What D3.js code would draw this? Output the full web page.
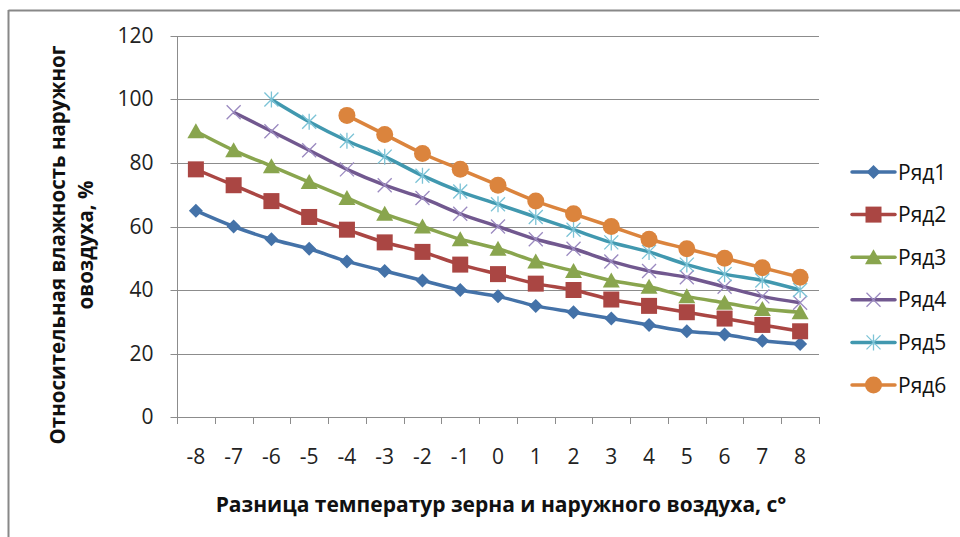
<!DOCTYPE html>
<html><head><meta charset="utf-8">
<script src="https://cdn.jsdelivr.net/npm/d3@7"></script>
<style>body{margin:0;background:#fff}svg{display:block}text{font-family:"Open Sans",sans-serif}</style>
</head><body><svg width="960" height="537"></svg>
<script>
const categories = [-8,-7,-6,-5,-4,-3,-2,-1,0,1,2,3,4,5,6,7,8];
const seriesNames = ["Ряд1","Ряд2","Ряд3","Ряд4","Ряд5","Ряд6"];
const s1 = [65,60,56,53,49,46,43,40,38,35,33,31,29,27,26,24,23];
const s2 = [78,73,68,63,59,55,52,48,45,42,40,37,35,33,31,29,27];
const s3 = [90,84,79,74,69,64,60,56,53,49,46,43,41,38,36,34,33];
const s4 = [null,96,90,84,78,73,69,64,60,56,53,49,46,44,41,38,36];
const s5 = [null,null,100,93,87,82,76,71,67,63,59,55,52,48,45,43,40];
const s6 = [null,null,null,null,95,89,83,78,73,68,64,60,56,53,50,47,44];
const yTicks = [0,20,40,60,80,100,120];
const xTitle = "Разница температур зерна и наружного воздуха, с°";
const yTitle1 = "Относительная влажность наружног";
const yTitle2 = "овоздуха, %";

const seriesValues = [s1,s2,s3,s4,s5,s6];
const colors = ["#4472A8","#AA4643","#89A54E","#71588F","#4198AF","#DB843D"];
const markerColors = ["#4472A8","#AA4643","#89A54E","#9B8AC0","#7CC3D6","#DB843D"];
const markerTypes = ["diamond","square","triangle","x","star","circle"];

const svg = d3.select("svg");
// frame
svg.append("line").attr("x1",8.5).attr("x2",960).attr("y1",10.5).attr("y2",10.5).attr("stroke","#888").attr("stroke-width",2);
svg.append("line").attr("x1",8.5).attr("x2",8.5).attr("y1",10).attr("y2",537).attr("stroke","#888").attr("stroke-width",2);

const L=177, R=819, T=36, B=417;
const x = d3.scaleBand().domain(categories).range([L,R]);
const y = d3.scaleLinear().domain([0,120]).range([B,T]);

// gridlines
svg.append("g").selectAll("line").data(yTicks.filter(d=>d>0)).join("line")
  .attr("x1",L).attr("x2",R).attr("y1",d=>Math.round(y(d))+0.5).attr("y2",d=>Math.round(y(d))+0.5)
  .attr("stroke","#8c8c8c").attr("stroke-width",1);

// y axis
const ya = svg.append("g").attr("transform",`translate(${L+0.5},0)`)
  .call(d3.axisLeft(y).tickValues(yTicks).tickSize(7).tickPadding(17));
ya.select(".domain").attr("stroke","#8c8c8c").attr("d",`M0,${T}V${B}`);
ya.selectAll(".tick line").attr("stroke","#8c8c8c");
ya.selectAll(".tick text").attr("font-size",21).attr("fill","#222").attr("font-family","Open Sans");
ya.selectAll(".tick").attr("transform",d=>`translate(0,${Math.round(y(d))+0.5})`);

// x axis
const xa = svg.append("g").attr("transform",`translate(0,${B+0.5})`)
  .call(d3.axisBottom(x).tickSize(0).tickPadding(32));
xa.select(".domain").attr("stroke","#8c8c8c").attr("d",`M${L},0H${R}`);
xa.selectAll(".tick text").attr("font-size",21).attr("fill","#222").attr("font-family","Open Sans");
svg.append("g").selectAll("line").data(d3.range(categories.length+1)).join("line")
  .attr("x1",i=>Math.round(L+i*x.step())+0.5).attr("x2",i=>Math.round(L+i*x.step())+0.5)
  .attr("y1",B).attr("y2",B+7).attr("stroke","#8c8c8c");

// titles
svg.append("text").attr("x",501).attr("y",512).attr("text-anchor","middle").attr("font-size",21)
  .attr("font-weight","bold").attr("fill","#111").text(xTitle);
svg.append("text").attr("transform","translate(65,245) rotate(-90)").attr("text-anchor","middle")
  .attr("font-size",20.5).attr("font-weight","bold").attr("fill","#111").text(yTitle1);
svg.append("text").attr("transform","translate(93,245) rotate(-90)").attr("text-anchor","middle")
  .attr("font-size",20.5).attr("font-weight","bold").attr("fill","#111").text(yTitle2);

function marker(g, type, col, cx, cy){
  if(type==="diamond") g.append("path").attr("d",`M${cx},${cy-7}L${cx+7},${cy}L${cx},${cy+7}L${cx-7},${cy}Z`).attr("fill",col);
  else if(type==="square") g.append("rect").attr("x",cx-8).attr("y",cy-8).attr("width",16).attr("height",16).attr("fill",col);
  else if(type==="triangle") g.append("path").attr("d",`M${cx},${cy-8}L${cx+8.5},${cy+7}L${cx-8.5},${cy+7}Z`).attr("fill",col);
  else if(type==="circle") g.append("circle").attr("cx",cx).attr("cy",cy).attr("r",8.5).attr("fill",col);
  else if(type==="x") g.append("path").attr("d",`M${cx-7},${cy-7}L${cx+7},${cy+7}M${cx-7},${cy+7}L${cx+7},${cy-7}`).attr("stroke",col).attr("stroke-width",1.3).attr("fill","none");
  else if(type==="star") g.append("path").attr("d",`M${cx-7},${cy-7}L${cx+7},${cy+7}M${cx-7},${cy+7}L${cx+7},${cy-7}M${cx},${cy-8}V${cy+8}`).attr("stroke",col).attr("stroke-width",1.3).attr("fill","none");
}

const line = d3.line().defined(d=>d.v!=null).x(d=>x(d.c)+x.bandwidth()/2).y(d=>y(d.v)).curve(d3.curveCatmullRom.alpha(0.5));
seriesValues.forEach((vals,i)=>{
  const data = categories.map((c,j)=>({c,v:vals[j]})).filter(d=>d.v!=null);
  const g = svg.append("g");
  g.append("path").datum(data).attr("d",line).attr("fill","none").attr("stroke",colors[i]).attr("stroke-width",3.5).attr("stroke-linejoin","round");
  data.forEach(d=>marker(g, markerTypes[i], markerColors[i], x(d.c)+x.bandwidth()/2, y(d.v)));
});

// legend
const lg = svg.append("g");
seriesNames.forEach((n,i)=>{
  const ly = 172 + i*42.6;
  lg.append("line").attr("x1",852).attr("x2",895).attr("y1",ly).attr("y2",ly).attr("stroke",colors[i]).attr("stroke-width",3.5).attr("stroke-linecap","round");
  marker(lg, markerTypes[i], markerColors[i], 873.5, ly);
  lg.append("text").attr("x",898).attr("y",ly+7.5).attr("font-size",21).attr("fill","#111").text(n);
});
</script></body></html>
